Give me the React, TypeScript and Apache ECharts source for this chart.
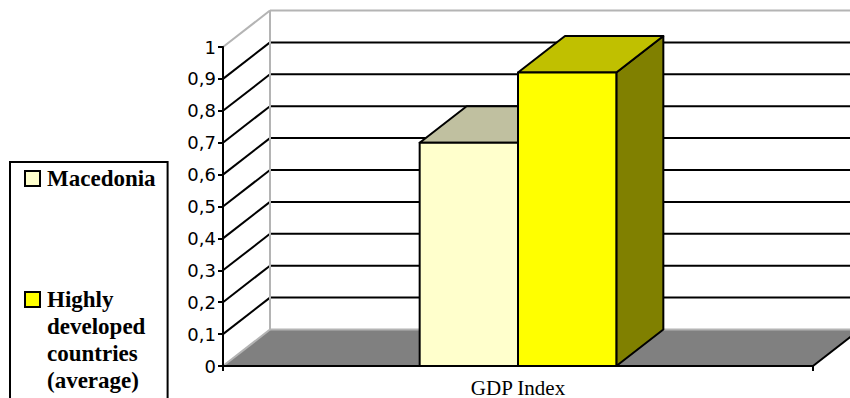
import React, { useEffect, useRef } from 'react';
import * as echarts from 'echarts';

// ---- data ----
const categories = ['GDP Index'];
const macedoniaName = 'Macedonia';
const developedName = 'Highly developed countries (average)';
const macedoniaValues = [0.7];
const developedValues = [0.92];

// value axis
const Y_MIN = 0;
const Y_MAX = 1;
const Y_STEP = 0.1;

// face colours of the 3D columns
const macedoniaFaces = { front: '#FFFFCC', top: '#C0C0A0', side: '#808066' };
const developedFaces = { front: '#FFFF00', top: '#C0C000', side: '#808000' };

// oblique depth of the 3D box (pixels)
const DX = 47;
const DY = -36.5;

const tickValues = (() => {
  const n = Math.round((Y_MAX - Y_MIN) / Y_STEP);
  const out: number[] = [];
  for (let i = 0; i <= n; i++) out.push(+(Y_MIN + i * Y_STEP).toFixed(6));
  return out;
})();

const GREY = '#b4b4b4';

function frameRenderer(params: any, api: any) {
  const cs = params.coordSys;
  const x0 = cs.x;
  const x1 = cs.x + cs.width;
  const yOf = (v: number) => api.coord([0, v])[1];
  const y0 = yOf(Y_MIN);
  const yTop = yOf(Y_MAX);
  const children: any[] = [];
  const line = (a: number[], b: number[], stroke: string, w = 2) => ({
    type: 'line',
    shape: { x1: a[0], y1: a[1], x2: b[0], y2: b[1] },
    style: { stroke, lineWidth: w },
  });

  // floor
  children.push({
    type: 'polygon',
    shape: { points: [[x0, y0], [x1, y0], [x1 + DX, y0 + DY], [x0 + DX, y0 + DY]] },
    style: { fill: '#808080' },
  });

  // back wall grid lines and diagonals on the side wall
  tickValues.forEach((v) => {
    if (v === Y_MIN) return;
    const y = yOf(v);
    const c = v === Y_MAX ? GREY : '#000';
    children.push(line([x0 + DX, y + DY], [x1 + DX, y + DY], c));
    children.push(line([x0, y], [x0 + DX, y + DY], c));
  });

  // wall left edge
  children.push(line([x0 + DX, yTop + DY], [x0 + DX, y0 + DY], GREY));
  // floor edges
  children.push(line([x0 + DX, y0 + DY], [x1 + DX, y0 + DY], GREY));
  children.push(line([x0, y0], [x0 + DX, y0 + DY], GREY));
  children.push(line([x1, y0], [x1 + DX, y0 + DY], '#000'));

  return { type: 'group', children };
}

function columnRenderer(slot: number, faces: { front: string; top: string; side: string }) {
  return (params: any, api: any) => {
    const cat = api.value(0);
    const val = api.value(1);
    const base = api.coord([cat, Y_MIN]);
    const cx = base[0];
    const yb = base[1];
    const yt = api.coord([cat, val])[1];
    const band = api.size([1, 0])[0];
    const w = band / 6;
    const xl = cx + (slot - 1) * w;
    const xr = xl + w;
    const st = { stroke: '#000', lineWidth: 2, lineJoin: 'round' };
    return {
      type: 'group',
      children: [
        {
          type: 'polygon',
          shape: { points: [[xr, yt], [xr + DX, yt + DY], [xr + DX, yb + DY], [xr, yb]] },
          style: { fill: faces.side, ...st },
        },
        {
          type: 'polygon',
          shape: { points: [[xl, yt], [xr, yt], [xr + DX, yt + DY], [xl + DX, yt + DY]] },
          style: { fill: faces.top, ...st },
        },
        {
          type: 'rect',
          shape: { x: xl, y: yt, width: w, height: yb - yt },
          style: { fill: faces.front, ...st },
        },
      ],
    };
  };
}

export default function App() {
  const ref = useRef<HTMLDivElement>(null);

  useEffect(() => {
    if (!ref.current) return;
    const chart = echarts.init(ref.current, null, { renderer: 'svg' });
    chart.setOption({
      animation: false,
      backgroundColor: '#ffffff',
      grid: { left: 223, right: 37, top: 47, bottom: 32, containLabel: false, outerBoundsMode: 'none' },
      legend: {
        orient: 'vertical',
        left: 10,
        top: 162,
        height: 600,
        padding: [3, 12, 16, 14],
        borderColor: '#000',
        borderWidth: 2,
        itemGap: 13,
        itemWidth: 15,
        itemHeight: 15,
        icon: 'rect',
        selectedMode: false,
        data: [macedoniaName, developedName],
        itemStyle: { borderColor: '#000', borderWidth: 2 },
        formatter: (name: string) =>
          name === developedName ? '\n\n\n' + name.split(' ').join('\n') : name,
        textStyle: {
          fontFamily: 'Liberation Serif',
          fontWeight: 'bold',
          fontSize: 23,
          lineHeight: 27,
          color: '#000',
          padding: [0, 0, 0, 2],
        },
      },
      xAxis: {
        type: 'category',
        data: categories,
        z: 5,
        axisLine: { show: true, lineStyle: { color: '#000', width: 2 } },
        axisTick: { show: true, length: 5, lineStyle: { color: '#000', width: 2 } },
        axisLabel: {
          color: '#000',
          fontFamily: 'Liberation Serif',
          fontSize: 21,
          margin: 11,
        },
        splitLine: { show: false },
      },
      yAxis: {
        type: 'value',
        min: Y_MIN,
        max: Y_MAX,
        interval: Y_STEP,
        z: 5,
        axisLine: { show: true, lineStyle: { color: '#000', width: 2 } },
        axisTick: { show: true, length: 5, lineStyle: { color: '#000', width: 2 } },
        axisLabel: {
          color: '#000',
          fontFamily: 'DejaVu Sans',
          fontSize: 18,
          margin: 7,
          formatter: (v: number) => String(+v.toFixed(1)).replace('.', ','),
        },
        splitLine: { show: false },
      },
      series: [
        {
          name: 'frame',
          type: 'custom',
          renderItem: frameRenderer,
          data: [[0, 0]],
          silent: true,
        },
        {
          name: macedoniaName,
          type: 'custom',
          renderItem: columnRenderer(0, macedoniaFaces),
          itemStyle: { color: macedoniaFaces.front },
          data: macedoniaValues.map((v, i) => [i, v]),
        },
        {
          name: developedName,
          type: 'custom',
          renderItem: columnRenderer(1, developedFaces),
          itemStyle: { color: developedFaces.front },
          data: developedValues.map((v, i) => [i, v]),
        },
      ],
    });
    return () => chart.dispose();
  }, []);

  return (
    <div
      ref={ref}
      style={{ position: 'absolute', left: 0, top: 0, width: 850, height: 398 }}
    />
  );
}
